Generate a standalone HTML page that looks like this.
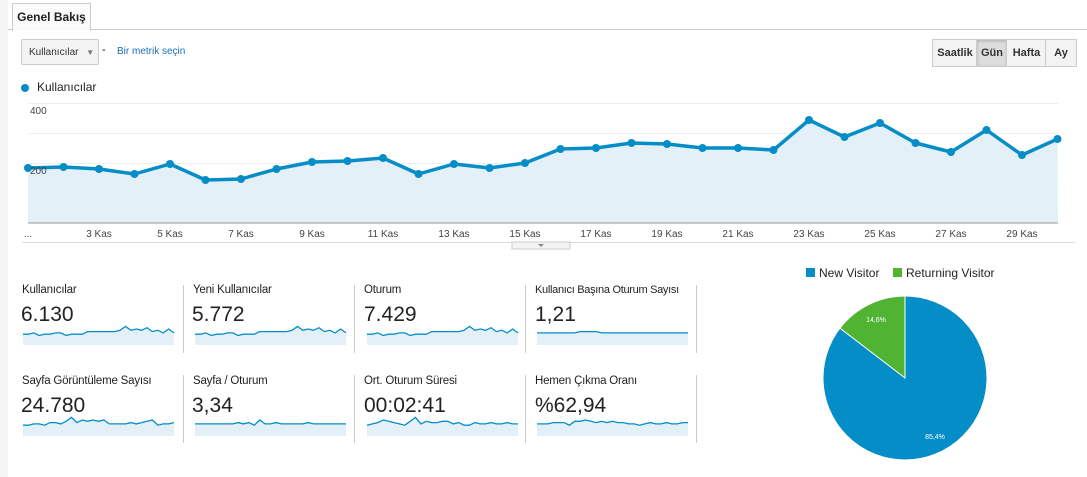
<!DOCTYPE html>
<html><head><meta charset="utf-8"><style>
body{margin:0;width:1087px;height:477px;background:#fff;font-family:"Liberation Sans",Arial,sans-serif;overflow:hidden;position:relative}
.a{position:absolute;white-space:nowrap}
.btn{position:absolute;top:39px;height:26px;border:1px solid #ccc;background:#f3f3f3;font-size:11px;font-weight:bold;color:#333;line-height:26px;text-align:center}
.lab{position:absolute;font-size:11.5px;color:#222;letter-spacing:-0.2px}
.val{position:absolute;font-size:21px;color:#222}
</style></head><body>
<div class="a" style="left:0;top:0;width:8px;height:477px;background:#f5f5f5"></div>
<div class="a" style="left:8px;top:29px;width:1079px;height:1px;background:#ccc"></div>
<div class="a" style="left:12px;top:3px;width:77px;height:27px;border:1px solid #ccc;border-bottom:none;background:#fafafa;font-size:12px;font-weight:bold;line-height:26px;text-align:center;color:#222">Genel Bakış</div>
<div class="a" style="left:21px;top:39px;width:78px;height:26px;border:1px solid #ccc;border-radius:2px;background:#f3f3f3;font-size:10px;line-height:26px;padding-left:7px;box-sizing:border-box;color:#333">Kullanıcılar <span style="color:#777;font-size:8px;margin-left:5px">▼</span></div>
<div class="a" style="left:102px;top:44px;font-size:11px">-</div>
<div class="a" style="left:117px;top:46px;font-size:10px;color:#1a6fb5">Bir metrik seçin</div>
<div class="btn" style="left:932px;width:44px">Saatlik</div>
<div class="btn" style="left:976px;width:30px;background:#ddd;box-shadow:inset 0 1px 3px #aaa">Gün</div>
<div class="btn" style="left:1006px;width:39px">Hafta</div>
<div class="btn" style="left:1045px;width:30px">Ay</div>
<div class="a" style="left:21px;top:84px;width:8px;height:8px;border-radius:50%;background:#058dc7"></div>
<div class="a" style="left:37px;top:80px;font-size:12px;color:#222">Kullanıcılar</div>
<svg class="a" style="left:0;top:0" width="1087" height="477" id="s">
<g stroke="#eee" stroke-width="1">
<line x1="28" x2="1058" y1="103.5" y2="103.5"/><line x1="28" x2="1058" y1="133.5" y2="133.5"/><line x1="28" x2="1058" y1="163.5" y2="163.5"/><line x1="28" x2="1058" y1="193.5" y2="193.5"/></g>
<g id="main"></g>
<line x1="28" x2="1058" y1="223" y2="223" stroke="#999" stroke-width="1"/>
<line x1="22" x2="1075" y1="242.5" y2="242.5" stroke="#ddd"/>
<rect x="512" y="242" width="58" height="7" fill="#f3f3f3" stroke="#ccc"/>
<path d="M538 244 L544 244 L541 247Z" fill="#888"/>
<text x="30" y="114" font-size="10" fill="#444">400</text>
<text x="30" y="174" font-size="10" fill="#444">200</text>
<g font-size="10" fill="#444" text-anchor="middle" id="xl"><text x="28" y="237">...</text></g>
<g id="sp"></g>
<g stroke="#ccc">
<line x1="183.5" x2="183.5" y1="285" y2="353"/><line x1="354.5" x2="354.5" y1="285" y2="353"/><line x1="525.5" x2="525.5" y1="285" y2="353"/><line x1="696.5" x2="696.5" y1="285" y2="353"/>
<line x1="183.5" x2="183.5" y1="375" y2="443"/><line x1="354.5" x2="354.5" y1="375" y2="443"/><line x1="525.5" x2="525.5" y1="375" y2="443"/><line x1="696.5" x2="696.5" y1="375" y2="443"/></g>
<circle cx="905" cy="378" r="82" fill="#058dc7" stroke="#fff"/>
<path d="M905 378 L905 296 A82 82 0 0 0 839.9 328.2 Z" fill="#50b432" stroke="#fff"/>
<text x="876" y="322" font-size="7" fill="#fff" text-anchor="middle">14,6%</text>
<text x="935" y="439" font-size="7" fill="#fff" text-anchor="middle">85,4%</text>
<rect x="806" y="268" width="9" height="9" fill="#058dc7"/><text x="819" y="277" font-size="12" fill="#222">New Visitor</text>
<rect x="893" y="268" width="9" height="9" fill="#50b432"/><text x="906" y="277" font-size="12" fill="#222">Returning Visitor</text>
</svg>
<div class="lab" style="left:22px;top:284px">Kullanıcılar</div><div class="val" style="left:21px;top:303px">6.130</div>
<div class="lab" style="left:193px;top:284px">Yeni Kullanıcılar</div><div class="val" style="left:192px;top:303px">5.772</div>
<div class="lab" style="left:364px;top:284px">Oturum</div><div class="val" style="left:364px;top:303px">7.429</div>
<div class="lab" style="left:535px;top:284px;font-size:11px;letter-spacing:-0.3px">Kullanıcı Başına Oturum Sayısı</div><div class="val" style="left:535px;top:303px">1,21</div>
<div class="lab" style="left:22px;top:375px">Sayfa Görüntüleme Sayısı</div><div class="val" style="left:21px;top:394px">24.780</div>
<div class="lab" style="left:193px;top:375px">Sayfa / Oturum</div><div class="val" style="left:192px;top:394px">3,34</div>
<div class="lab" style="left:364px;top:375px">Ort. Oturum Süresi</div><div class="val" style="left:364px;top:394px">00:02:41</div>
<div class="lab" style="left:535px;top:375px">Hemen Çıkma Oranı</div><div class="val" style="left:535px;top:394px">%62,94</div>
<script>
var ns="http://www.w3.org/2000/svg";
function el(p,t,a){var e=document.createElementNS(ns,t);for(var k in a)e.setAttribute(k,a[k]);p.appendChild(e);return e;}
var ys=[168,167,169,174,164,180,179,169,162,161,158,174,164,168,163,149,148,143,144,148,148,150,120,137,123,143,152,130,155,139];
var g=document.getElementById('main');var pts=ys.map(function(y,i){return (28+i*35.5)+','+y});
el(g,'path',{d:'M28,223 L'+pts.join(' L')+' L1058,223Z',fill:'#e3f0f7'});
el(g,'polyline',{points:pts.join(' '),fill:'none',stroke:'#058dc7','stroke-width':3.5,'stroke-linejoin':'round'});
ys.forEach(function(y,i){el(g,'circle',{cx:28+i*35.5,cy:y,r:4,fill:'#058dc7'})});
var xl=document.getElementById('xl');
for(var d=3;d<=29;d+=2){el(xl,'text',{x:28+(d-1)*35.5,y:237}).textContent=d+' Kas';}
var sp=document.getElementById('sp');
var A=[4,4,3,5,4,4,3,3,5,4,4,4,2,2,2,2,2,2,1,-2,1,0,1,-1,2,1,3,0,3];
var B=[3,3,3,3,3,3,3,3,2,2,2,2,3,3,3,3,3,3,3,3,3,3,3,3,3,3,3,3,3];
var C=[4,4,3,3,4,2,2,3,1,-2,2,0,1,0,1,0,3,3,3,3,2,3,2,1,0,4,3,3,2];
var D=[3,3,3,3,3,3,3,3,2,3,2,4,0,3,3,2,3,3,3,3,3,2,3,3,3,3,3,3,3];
var E=[4,3,2,0,1,2,3,4,1,-2,3,1,2,2,1,1,3,2,4,4,2,3,3,2,3,3,2,3,3];
var F=[3,3,3,2,2,2,4,1,1,0,1,2,1,2,1,2,2,3,3,4,3,2,3,3,2,3,3,2,2];
var cols=[23,195,367,537],tops=[327,418];
var sets=[[A,A,A,B],[C,D,E,F]];
for(var r=0;r<2;r++)for(var c=0;c<4;c++){var s=sets[r][c],x0=cols[c],w=151,b=tops[r]+18;
var pp=s.map(function(v,i){return (x0+i*w/(s.length-1)).toFixed(1)+','+(tops[r]+v*1.3+2)});
el(sp,'path',{d:'M'+x0+','+b+' L'+pp.join(' L')+' L'+(x0+w)+','+b+'Z',fill:'#e3f0f7'});
el(sp,'polyline',{points:pp.join(' '),fill:'none',stroke:'#058dc7','stroke-width':1.3});}
</script>
</body></html>
